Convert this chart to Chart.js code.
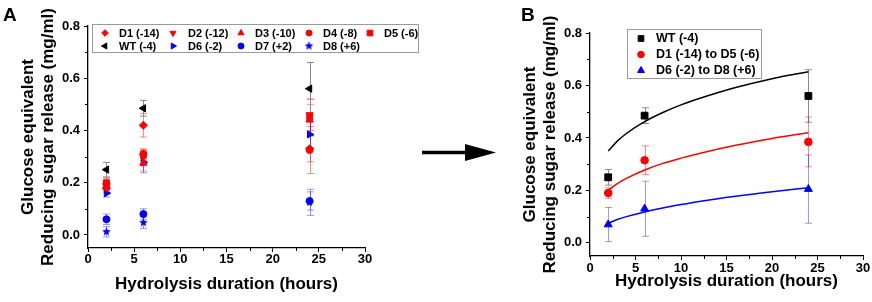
<!DOCTYPE html>
<html>
<head>
<meta charset="utf-8">
<script src="https://cdn.jsdelivr.net/npm/chart.js@4.4.1/dist/chart.umd.min.js"></script>
<style>
  body { margin: 0; width: 872px; height: 302px; position: relative; background: #fff; overflow: hidden; font-family: 'Liberation Sans', Arial, sans-serif; }
  canvas { position: absolute; top: 0; }
  #plotA { left: 0; }
  #plotB { left: 500px; }
  .lab { position: absolute; font-weight: bold; font-size: 19px; line-height: 19px; }
  svg { position: absolute; left: 0; top: 0; }
</style>
</head>
<body>
<canvas id="plotA" width="430" height="302"></canvas>
<canvas id="plotB" width="372" height="302"></canvas>
<div class="lab" style="left:3px;top:5px">A</div>
<div class="lab" style="left:521px;top:5px">B</div>
<svg width="872" height="302">
  <line x1="422" y1="152.5" x2="470" y2="152.5" stroke="#000" stroke-width="3.5"/>
  <polygon points="465,144 496,152.5 465,161" fill="#000"/>
</svg>
<script>
// tiempos de hidrólisis (h)
const hours = [2, 6, 24];
const xTicks = [0, 5, 10, 15, 20, 25, 30];
const yTicks = [0, 0.2, 0.4, 0.6, 0.8];
const xMinor = [2.5, 7.5, 12.5, 17.5, 22.5, 27.5];
const yMinor = [0.1, 0.3, 0.5, 0.7];

// panel A: cada variante
const d1 = [0.18, 0.42, 0.33];   const d1Err = [0.02, 0.045, 0.05];
const d2 = [0.19, 0.30, 0.46];   const d2Err = [0.02, 0.025, 0.06];
const d3 = [0.185, 0.275, 0.44]; const d3Err = [0.02, 0.03, 0.06];
const d4 = [0.195, 0.31, 0.325]; const d4Err = [0.02, 0.02, 0.09];
const d5 = [0.20, 0.305, 0.45];  const d5Err = [0.02, 0.02, 0.07];
const wt = [0.25, 0.485, 0.56];  const wtErr = [0.028, 0.03, 0.1];
const d6 = [0.16, 0.278, 0.385]; const d6Err = [0.015, 0.04, 0.05];
const d7 = [0.06, 0.08, 0.13];   const d7Err = [0.02, 0.02, 0.035];
const d8 = [0.012, 0.047, 0.125]; const d8Err = [0.02, 0.022, 0.05];

// panel B: promedios por grupo
const wtMean = [0.25, 0.485, 0.56];    const wtMeanErr = [0.03, 0.03, 0.1];
const redMean = [0.19, 0.315, 0.385];  const redMeanErr = [0.02, 0.055, 0.095];
const blueMean = [0.07, 0.13, 0.205];  const blueMeanErr = [0.065, 0.105, 0.13];

// curvas de ajuste
const fitHours = [2, 3, 4, 6, 8, 10, 12, 16, 20, 24];
const wtFit = [0.35, 0.388, 0.417, 0.462, 0.497, 0.526, 0.55, 0.592, 0.626, 0.652];
const redFit = [0.2, 0.226, 0.246, 0.278, 0.303, 0.323, 0.341, 0.372, 0.398, 0.42];
const blueFit = [0.075, 0.089, 0.1, 0.118, 0.133, 0.146, 0.158, 0.178, 0.195, 0.21];

const FAM = "'Liberation Sans', Arial, sans-serif";
const RED = '#ff0000', BLUE = '#0000ff', BLACK = '#000000';
const RED_ERR = 'rgba(255,0,0,0.45)', BLUE_ERR = 'rgba(0,0,255,0.4)', GRAY_ERR = '#8a8a8a';

let pts = (xs, vals) => xs.map((h, i) => ({x: h, y: vals[i]}));

// estrella rellena como pointStyle
let makeStar = (r, color) => {
  let c = document.createElement('canvas');
  c.width = c.height = Math.ceil(2 * r + 2);
  let g = c.getContext('2d');
  let m = c.width / 2;
  g.beginPath();
  for (let i = 0; i < 10; i++) {
    let a = -Math.PI / 2 + i * Math.PI / 5;
    let rr = i % 2 ? r * 0.45 : r;
    g.lineTo(m + rr * Math.cos(a), m + rr * Math.sin(a));
  }
  g.closePath();
  g.fillStyle = color;
  g.fill();
  return c;
};
const starA = makeStar(4.5, BLUE);

let serie = (label, xs, vals, errs, color, errColor, style, rot, r) => ({
  type: 'scatter', label: label, data: pts(xs, vals),
  pointStyle: style, pointRotation: rot, pointRadius: r,
  pointBackgroundColor: color, pointBorderColor: color, pointBorderWidth: 1,
  showLine: false, errors: errs, errorColor: errColor
});

let fit = (vals, color) => ({
  type: 'line', data: pts(fitHours, vals), borderColor: color, borderWidth: 1.5,
  pointRadius: 0, tension: 0.4, cubicInterpolationMode: 'monotone', fill: false
});

const errorBars = {
  id: 'errorBars',
  beforeDatasetsDraw(chart) {
    const {ctx, scales: {x, y}} = chart;
    ctx.save();
    ctx.lineWidth = 1;
    chart.data.datasets.forEach(ds => {
      if (!ds.errors) return;
      ctx.strokeStyle = ds.errorColor;
      ds.data.forEach((p, i) => {
        let px = Math.round(x.getPixelForValue(p.x)) + 0.5;
        let top = y.getPixelForValue(p.y + ds.errors[i]);
        let bot = y.getPixelForValue(p.y - ds.errors[i]);
        ctx.beginPath();
        ctx.moveTo(px, top); ctx.lineTo(px, bot);
        ctx.moveTo(px - 3.5, top); ctx.lineTo(px + 3.5, top);
        ctx.moveTo(px - 3.5, bot); ctx.lineTo(px + 3.5, bot);
        ctx.stroke();
      });
    });
    ctx.restore();
  }
};

const minorTicks = {
  id: 'minorTicks',
  afterDraw(chart) {
    const {ctx, chartArea, scales: {x, y}} = chart;
    ctx.save();
    ctx.strokeStyle = '#000';
    ctx.lineWidth = 1;
    ctx.beginPath();
    xMinor.forEach(v => {
      let px = Math.round(x.getPixelForValue(v)) + 0.5;
      ctx.moveTo(px, chartArea.bottom); ctx.lineTo(px, chartArea.bottom + 3);
    });
    yMinor.forEach(v => {
      let py = Math.round(y.getPixelForValue(v)) + 0.5;
      ctx.moveTo(chartArea.left, py); ctx.lineTo(chartArea.left - 3, py);
    });
    ctx.stroke();
    ctx.restore();
  }
};

const boxLegend = {
  id: 'boxLegend',
  afterDraw(chart, args, opts) {
    const ctx = chart.ctx;
    const [bx, by, bw, bh] = opts.box;
    ctx.save();
    ctx.fillStyle = '#fff';
    ctx.strokeStyle = '#9a9a9a';
    ctx.lineWidth = 1;
    ctx.fillRect(bx, by, bw, bh);
    ctx.strokeRect(bx + 0.5, by + 0.5, bw, bh);
    ctx.font = 'bold ' + opts.size + 'px ' + FAM;
    ctx.textBaseline = 'middle';
    ctx.textAlign = 'left';
    opts.items.forEach(it => {
      const ds = chart.data.datasets[it.ds];
      ctx.fillStyle = ds.pointBackgroundColor;
      ctx.strokeStyle = ds.pointBorderColor;
      ctx.lineWidth = 1;
      Chart.helpers.drawPoint(ctx, {pointStyle: ds.pointStyle, rotation: ds.pointRotation || 0, radius: it.r, borderWidth: 1}, it.x, it.y);
      ctx.fillStyle = '#000';
      ctx.fillText(ds.label, it.tx, it.y + 0.5);
    });
    ctx.restore();
  }
};

let ejes = (p) => ({
  x: {
    type: 'linear', min: 0, max: 30,
    afterBuildTicks: s => { s.ticks = xTicks.map(v => ({value: v})); },
    afterFit: s => { s.height = p.xH; },
    ticks: {font: {family: FAM, size: 13, weight: 'bold'}, color: '#000', padding: p.xPad, maxRotation: 0, autoSkip: false, callback: v => String(v)},
    grid: {drawOnChartArea: false, tickLength: 4, tickColor: '#000', tickWidth: 1},
    border: {color: '#000', width: 1.3},
    title: {display: true, text: 'Hydrolysis duration (hours)', color: '#000', font: {family: FAM, size: 17, weight: 'bold'}, padding: {top: 0, bottom: p.xTitlePad}}
  },
  y: {
    type: 'linear', min: -0.05, max: 0.8,
    afterBuildTicks: s => { s.ticks = yTicks.map(v => ({value: v})); },
    afterFit: s => { s.width = p.yW; },
    ticks: {font: {family: FAM, size: 13, weight: 'bold'}, color: '#000', padding: 4, autoSkip: false, callback: v => v.toFixed(1)},
    grid: {drawOnChartArea: false, tickLength: 4, tickColor: '#000', tickWidth: 1},
    border: {color: '#000', width: 1.3},
    title: {display: true, text: ['Glucose equivalent', 'Reducing sugar release (mg/ml)'], color: '#000', font: {family: FAM, size: 17, weight: 'bold'}, padding: {top: p.yTitlePad, bottom: 0}}
  }
});

let comunes = {
  responsive: false,
  animation: false,
  devicePixelRatio: 1,
  events: []
};

// Panel A
let dsA = [
  serie('D1 (-14)', hours, d1, d1Err, RED, RED_ERR, 'rectRot', 0, 4),
  serie('D2 (-12)', hours, d2, d2Err, RED, RED_ERR, 'triangle', 180, 4.2),
  serie('D3 (-10)', hours, d3, d3Err, RED, RED_ERR, 'triangle', 0, 4.2),
  serie('D4 (-8)', hours, d4, d4Err, RED, RED_ERR, 'circle', 0, 3.5),
  serie('D5 (-6)', hours, d5, d5Err, RED, RED_ERR, 'rect', 0, 4),
  serie('WT (-4)', hours, wt, wtErr, BLACK, GRAY_ERR, 'triangle', 270, 4.2),
  serie('D6 (-2)', hours, d6, d6Err, BLUE, BLUE_ERR, 'triangle', 90, 4.2),
  serie('D7 (+2)', hours, d7, d7Err, BLUE, BLUE_ERR, 'circle', 0, 3.5),
  serie('D8 (+6)', hours, d8, d8Err, BLUE, BLUE_ERR, starA, 0, 4.5)
];

let legA = {
  box: [92, 24, 326, 28], size: 11,
  items: [
    {ds: 0, x: 105, y: 33, tx: 119, r: 3.3},
    {ds: 1, x: 173, y: 33, tx: 188, r: 3.5},
    {ds: 2, x: 241, y: 33, tx: 255, r: 3.5},
    {ds: 3, x: 309, y: 33, tx: 323, r: 3},
    {ds: 4, x: 370, y: 33, tx: 384, r: 4},
    {ds: 5, x: 105, y: 46, tx: 119, r: 3.5},
    {ds: 6, x: 173, y: 46, tx: 188, r: 3.5},
    {ds: 7, x: 241, y: 46, tx: 255, r: 3},
    {ds: 8, x: 309, y: 46, tx: 323, r: 4}
  ]
};

new Chart(document.getElementById('plotA'), {
  type: 'scatter',
  data: {datasets: dsA},
  options: Object.assign({}, comunes, {
    layout: {padding: {left: 0, top: 26, right: 65, bottom: 0}},
    scales: ejes({xH: 54, yW: 88, xPad: 0, xTitlePad: 7, yTitlePad: 18}),
    plugins: {legend: {display: false}, tooltip: {enabled: false}, boxLegend: legA}
  }),
  plugins: [errorBars, minorTicks, boxLegend]
});

// Panel B
let dsB = [
  serie('WT (-4)', hours, wtMean, wtMeanErr, BLACK, GRAY_ERR, 'rect', 0, 4.8),
  serie('D1 (-14) to D5 (-6)', hours, redMean, redMeanErr, RED, RED_ERR, 'circle', 0, 3.8),
  serie('D6 (-2) to D8 (+6)', hours, blueMean, blueMeanErr, BLUE, BLUE_ERR, 'triangle', 0, 4.6),
  fit(wtFit, BLACK),
  fit(redFit, RED),
  fit(blueFit, BLUE)
];

let legB = {
  box: [127, 29, 134, 49], size: 12.5,
  items: [
    {ds: 0, x: 141, y: 38.5, tx: 156, r: 4},
    {ds: 1, x: 141, y: 54.5, tx: 156, r: 3.3},
    {ds: 2, x: 141, y: 70.5, tx: 156, r: 4}
  ]
};

new Chart(document.getElementById('plotB'), {
  type: 'scatter',
  data: {datasets: dsB},
  options: Object.assign({}, comunes, {
    layout: {padding: {left: 0, top: 33, right: 9, bottom: 0}},
    scales: ejes({xH: 46, yW: 90, xPad: 1, xTitlePad: 10, yTitlePad: 20}),
    plugins: {legend: {display: false}, tooltip: {enabled: false}, boxLegend: legB}
  }),
  plugins: [errorBars, minorTicks, boxLegend]
});
</script>
</body>
</html>
